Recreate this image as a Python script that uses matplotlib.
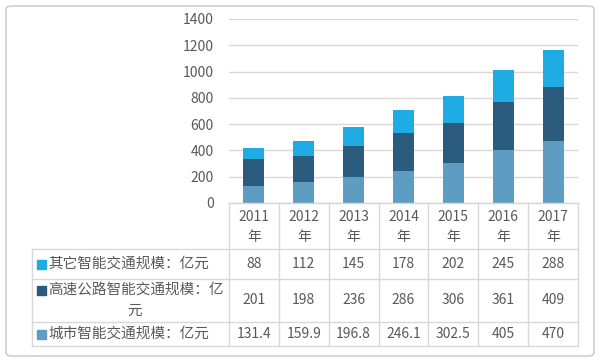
import matplotlib.pyplot as plt
import matplotlib.patches as mpatches
import numpy as np

plt.rcParams['font.family'] = ['Noto Sans CJK SC', 'DejaVu Sans']

years = ['2011', '2012', '2013', '2014', '2015', '2016', '2017']
city = [131.4, 159.9, 196.8, 246.1, 302.5, 405, 470]
highway = [201, 198, 236, 286, 306, 361, 409]
other = [88, 112, 145, 178, 202, 245, 288]
city_txt = ['131.4', '159.9', '196.8', '246.1', '302.5', '405', '470']

c_city = '#5e9cc1'
c_high = '#2c5c7d'
c_other = '#1fabe3'
grid_c = '#d9d9d9'
txt_c = '#595959'

W, H = 600, 361
fig = plt.figure(figsize=(6, 3.61), dpi=100)

def fx(x):
    return x / W

def fy(y):
    return 1 - y / H

# outer frame
fig.patches.append(mpatches.FancyBboxPatch((fx(6), fy(356)), fx(588), (350) / H,
                                           boxstyle='round,pad=0,rounding_size=0.01',
                                           transform=fig.transFigure, fill=False,
                                           ec='#d0d0d0', lw=1.2))

L, R, T, B = 229, 578, 19, 203
ax = fig.add_axes([fx(L), fy(B), (R - L) / W, (B - T) / H])
x = np.arange(len(years))
bw = 0.42
ax.bar(x, city, bw, color=c_city, zorder=3)
ax.bar(x, highway, bw, bottom=city, color=c_high, zorder=3)
bot2 = np.array(city) + np.array(highway)
ax.bar(x, other, bw, bottom=bot2, color=c_other, zorder=3)

ax.set_xlim(-0.5, len(years) - 0.5)
ax.set_ylim(0, 1400)
ax.set_yticks(range(0, 1401, 200))
ax.yaxis.grid(True, color=grid_c, lw=1, zorder=0)
ax.set_xticks([])
ax.tick_params(axis='y', length=0, labelsize=10, labelcolor=txt_c, pad=11)
for s in ['top', 'right', 'left']:
    ax.spines[s].set_visible(False)
ax.spines['bottom'].set_color(grid_c)

# data table
col_w = (R - L) / 7
rows_y = [B, 249, 279, 322, 346]
tab_left = 32
lc = '#d8d8d8'
fig.add_artist(plt.Line2D([fx(L), fx(R)], [fy(B), fy(B)], color=lc, lw=1))
for yy in rows_y[1:]:
    fig.add_artist(plt.Line2D([fx(tab_left), fx(R)], [fy(yy), fy(yy)], color=lc, lw=1))
for i in range(8):
    xx = L + i * col_w
    fig.add_artist(plt.Line2D([fx(xx), fx(xx)], [fy(B), fy(rows_y[-1])], color=lc, lw=1))
fig.add_artist(plt.Line2D([fx(tab_left), fx(tab_left)], [fy(rows_y[1]), fy(rows_y[-1])], color=lc, lw=1))

fs = 10
for i, yr in enumerate(years):
    cx = L + (i + 0.5) * col_w
    fig.text(fx(cx), fy(217), yr, ha='center', va='center', fontsize=fs, color=txt_c)
    fig.text(fx(cx), fy(237), '年', ha='center', va='center', fontsize=fs, color=txt_c)

series = [
    (other, [str(v) for v in other], c_other, ['其它智能交通规模：亿元']),
    (highway, [str(v) for v in highway], c_high, ['高速公路智能交通规模：亿', '元']),
    (city, city_txt, c_city, ['城市智能交通规模：亿元']),
]
for r, (vals, labels, col, name) in enumerate(series):
    y0, y1 = rows_y[r + 1], rows_y[r + 2]
    cy = (y0 + y1) / 2
    for i, lab in enumerate(labels):
        cx = L + (i + 0.5) * col_w
        fig.text(fx(cx), fy(cy), lab, ha='center', va='center', fontsize=fs, color=txt_c)
    if len(name) == 1:
        ty = [cy]
    else:
        ty = [cy - 10, cy + 10]
    fig.patches.append(mpatches.Rectangle((fx(37), fy(ty[0] + 4.5)), 9 / W, 9 / H,
                                          transform=fig.transFigure, color=col))
    fig.text(fx(48), fy(ty[0]), name[0], ha='left', va='center', fontsize=10.5, color=txt_c)
    if len(name) > 1:
        fig.text(fx(135), fy(ty[1]), name[1], ha='center', va='center', fontsize=10.5, color=txt_c)

fig.savefig('out.png', dpi=100)
